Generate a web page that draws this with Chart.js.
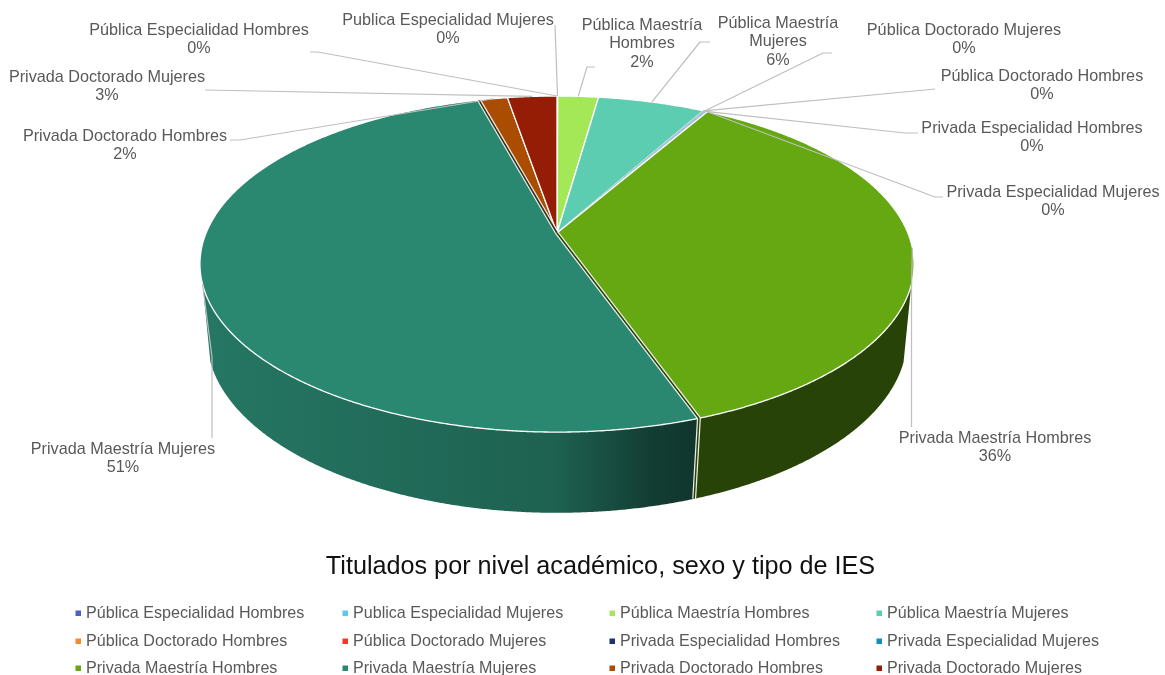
<!DOCTYPE html>
<html>
<head>
<meta charset="utf-8">
<title>Titulados por nivel académico</title>
<script src="https://cdn.jsdelivr.net/npm/chart.js@4/dist/chart.umd.min.js"></script>
<style>
    html, body { margin: 0; padding: 0; background: #fff; }
    canvas { display: block; }
</style>
</head>
<body>
<canvas id="pieChart" width="1165" height="675"></canvas>
<script>
// Data (percent of total)
const categories = [
    'Pública Especialidad Hombres', 'Publica Especialidad Mujeres',
    'Pública Maestría Hombres', 'Pública Maestría Mujeres',
    'Pública Doctorado Hombres', 'Pública Doctorado Mujeres',
    'Privada Especialidad Hombres', 'Privada Especialidad Mujeres',
    'Privada Maestría Hombres', 'Privada Maestría Mujeres',
    'Privada Doctorado Hombres', 'Privada Doctorado Mujeres'
];
const shares = [0.02, 0.02, 2.2, 5.8, 0.06, 0.06, 0.06, 0.06, 36.3, 51.2, 1.55, 2.67];
const colors = [
    '#4a62c4', '#5cc8f2', '#a5e857', '#5ccdb0', '#f58a2c', '#ee3b24',
    '#1f2f78', '#0e8fc0', '#65a812', '#2a8770', '#aa4d00', '#951c05'
];

// Label placement: wrapped lines, centre x, first line y, leader bend points
const labelSpots = [
    { lines: ['Pública Especialidad Hombres'], x: 199, y: 30.5, leader: [[310, 52], [318, 52]] },
    { lines: ['Publica Especialidad Mujeres'], x: 448, y: 20.5, leader: [[555, 25]] },
    { lines: ['Pública Maestría', 'Hombres'], x: 642, y: 25.5, leader: [[595, 67], [587, 67]] },
    { lines: ['Pública Maestría', 'Mujeres'], x: 778, y: 23.5, leader: [[710, 42], [700, 42]] },
    { lines: ['Pública Doctorado Hombres'], x: 1042, y: 76.5, leader: [[935, 89], [925, 90]] },
    { lines: ['Pública Doctorado Mujeres'], x: 964, y: 30.5, leader: [[832, 53], [823, 53]] },
    { lines: ['Privada Especialidad Hombres'], x: 1032, y: 128.5, leader: [[918, 133], [905, 133]] },
    { lines: ['Privada Especialidad Mujeres'], x: 1053, y: 192.5, leader: [[943, 197], [935, 197]] },
    { lines: ['Privada Maestría Hombres'], x: 995, y: 438.5, leader: [[911.5, 427], [911.5, 290]] },
    { lines: ['Privada Maestría Mujeres'], x: 123, y: 449.5, leader: [[212, 438], [212, 357]] },
    { lines: ['Privada Doctorado Hombres'], x: 125, y: 136.5, leader: [[230, 140], [240, 140]] },
    { lines: ['Privada Doctorado Mujeres'], x: 107, y: 77.5, leader: [[205, 90]] }
];

const legendCols = [75.5, 342.5, 609.5, 876.5];
const legendRows = [614, 642, 669];

const textFont = '16.2px "Liberation Sans", Arial, sans-serif';
const legendFont = '16.1px "Liberation Sans", Arial, sans-serif';
const textColor = '#595959';
const leaderColor = '#bfbfbf';

// Perspective view of the disc: top face and bottom face
const topFace = { x: 557, y: 233, a: 350.9, b: 162.3, k: -0.1848 };
const bottomFace = { x: 557, y: 308, a: 344.9, b: 170, k: -0.17 };
// The wall shows only below this sine of the angle
const wallStart = Math.asin(0.3025);

function project(face, angle) {
    const u = Math.cos(angle), v = Math.sin(angle);
    const w = 1 + face.k * v;
    return [face.x + face.a * u / w, face.y + face.b * v / w];
}

function shade(hex, f) {
    const n = parseInt(hex.slice(1), 16);
    const r = Math.round(((n >> 16) & 255) * f);
    const g = Math.round(((n >> 8) & 255) * f);
    const b = Math.round((n & 255) * f);
    return `rgb(${r},${g},${b})`;
}

function tracePoints(ctx, pts) {
    ctx.beginPath();
    pts.forEach((p, i) => i ? ctx.lineTo(p[0], p[1]) : ctx.moveTo(p[0], p[1]));
}

function sweep(face, from, to) {
    const pts = [];
    const n = Math.max(2, Math.ceil(Math.abs(to - from) / 0.005));
    for (let j = 0; j <= n; j++) {
        pts.push(project(face, from + (to - from) * j / n));
    }
    return pts;
}

// Wall gets darker towards the right
function wallGradient(ctx, color) {
    const g = ctx.createLinearGradient(200, 0, 913, 0);
    g.addColorStop(0, shade(color, 0.88));
    g.addColorStop(0.5, shade(color, 0.72));
    g.addColorStop(0.63, shade(color, 0.46));
    g.addColorStop(0.69, shade(color, 0.4));
    g.addColorStop(1, shade(color, 0.4));
    return g;
}

function drawWalls(ctx, arcs) {
    arcs.forEach((arc, i) => {
        const from = Math.max(arc.startAngle, wallStart);
        const to = Math.min(arc.endAngle, Math.PI - wallStart);
        if (to <= from) return;
        tracePoints(ctx, sweep(topFace, from, to).concat(sweep(bottomFace, to, from)));
        ctx.closePath();
        ctx.fillStyle = wallGradient(ctx, colors[i]);
        ctx.fill();
    });
}

function drawTop(ctx, arcs) {
    const center = [topFace.x, topFace.y];
    arcs.forEach((arc, i) => {
        const tiny = arc.endAngle - arc.startAngle < 0.01;
        tracePoints(ctx, [center].concat(sweep(topFace, arc.startAngle, arc.endAngle)));
        ctx.closePath();
        ctx.fillStyle = colors[i];
        ctx.fill();
        ctx.strokeStyle = tiny ? '#a9cfe0' : '#ffffff';
        ctx.lineWidth = tiny ? 1 : 1.3;
        ctx.lineJoin = 'round';
        ctx.stroke();
    });
}

// The cut faces that show as a thin dark line between big slices
function drawSeam(ctx, angle, dark, withWall) {
    const rim = project(topFace, angle);
    const line = withWall ? [[topFace.x, topFace.y], rim, project(bottomFace, angle)] : [[topFace.x, topFace.y], rim];
    ctx.lineJoin = 'miter';
    ctx.strokeStyle = '#e8efe8';
    ctx.lineWidth = 4;
    tracePoints(ctx, line);
    ctx.stroke();
    ctx.strokeStyle = dark;
    ctx.lineWidth = 1.5;
    tracePoints(ctx, line);
    ctx.stroke();
}

function drawLabels(ctx, arcs) {
    ctx.font = textFont;
    ctx.textAlign = 'center';
    ctx.textBaseline = 'middle';
    const total = shares.reduce((s, v) => s + v, 0);
    arcs.forEach((arc, i) => {
        const spot = labelSpots[i];
        const anchor = project(topFace, (arc.startAngle + arc.endAngle) / 2);
        ctx.strokeStyle = leaderColor;
        ctx.lineWidth = 1.2;
        ctx.lineJoin = 'round';
        tracePoints(ctx, spot.leader.concat([anchor]));
        ctx.stroke();

        ctx.fillStyle = textColor;
        const lines = spot.lines.concat([Math.round(shares[i] / total * 100) + '%']);
        lines.forEach((t, j) => ctx.fillText(t, spot.x, spot.y + j * 18.5));
    });
}

function drawLegend(ctx) {
    ctx.font = legendFont;
    ctx.textAlign = 'left';
    ctx.textBaseline = 'middle';
    categories.forEach((name, i) => {
        const x = legendCols[i % 4];
        const y = legendRows[Math.floor(i / 4)];
        ctx.fillStyle = colors[i];
        ctx.fillRect(x, y - 3.5, 5.5, 5.5);
        ctx.fillStyle = textColor;
        ctx.fillText(name, x + 10.5, y);
    });
}

const perspectivePie = {
    id: 'perspectivePie',
    beforeDatasetsDraw(chart) {
        const ctx = chart.ctx;
        const arcs = chart.getDatasetMeta(0).data;
        ctx.save();
        drawWalls(ctx, arcs);
        drawTop(ctx, arcs);
        drawSeam(ctx, arcs[9].startAngle, '#2b3f05', true);
        drawSeam(ctx, arcs[10].startAngle, '#3a2a1a', false);
        drawLabels(ctx, arcs);
        drawLegend(ctx);
        ctx.restore();
        return false;
    }
};

new Chart(document.getElementById('pieChart').getContext('2d'), {
    type: 'pie',
    data: {
        labels: categories,
        datasets: [{ data: shares, backgroundColor: colors, borderColor: '#ffffff', borderWidth: 1 }]
    },
    options: {
        responsive: false,
        animation: false,
        layout: { padding: { left: 36 } },
        plugins: {
            legend: { display: false },
            tooltip: { enabled: false },
            title: {
                display: true,
                text: 'Titulados por nivel académico, sexo y tipo de IES',
                position: 'bottom',
                color: '#111111',
                font: { family: '"Liberation Sans", Arial, sans-serif', size: 25.2, weight: 'normal' },
                padding: { top: 0, bottom: 93 }
            }
        }
    },
    plugins: [perspectivePie]
});
</script>
</body>
</html>
